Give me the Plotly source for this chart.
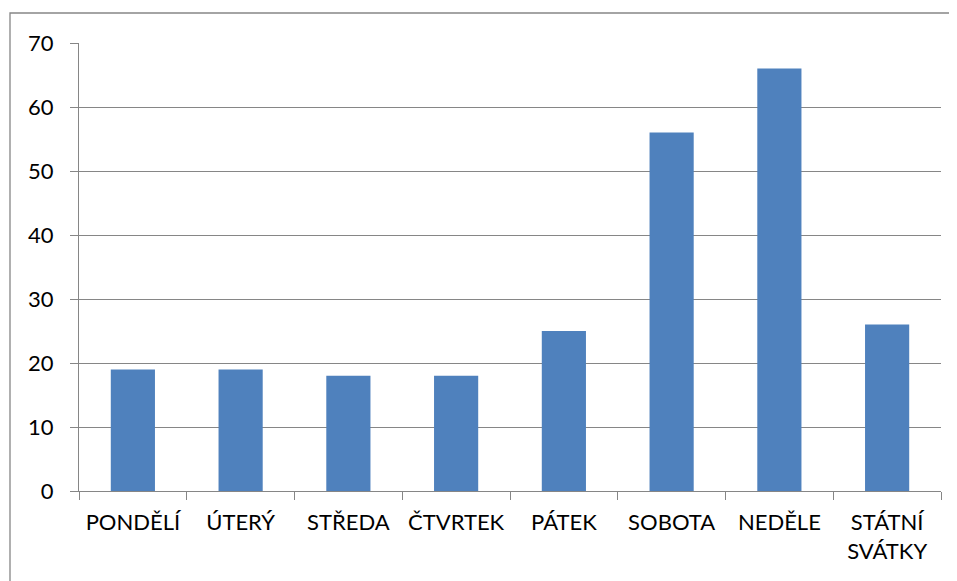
import plotly.graph_objects as go

categories = ["PONDĚLÍ", "ÚTERÝ", "STŘEDA", "ČTVRTEK", "PÁTEK", "SOBOTA", "NEDĚLE", "STÁTNÍ<br>SVÁTKY"]
values = [19, 19, 18, 18, 25, 56, 66, 26]
y_ticks = [0, 10, 20, 30, 40, 50, 60, 70]

grid = "#868686"
fig = go.Figure(go.Bar(x=categories, y=values, marker=dict(color="#4F81BD", line=dict(width=0)),
                       hoverinfo="x+y"))

# page body has an 8px offset
OFF = 8
W, H = 957, 581
L, R, T, B = 79 - OFF, W - 941 + OFF, 43 - OFF, H - 491 + OFF
pw, ph = W - L - R, H - T - B

def px_to_paper_x(px):
    return (px - OFF - L) / pw

def py_to_paper_y(py):
    return (H - B - (py - OFF)) / ph

fig.update_layout(
    width=W, height=H,
    margin=dict(l=L, r=R, t=T, b=B),
    plot_bgcolor="white", paper_bgcolor="white",
    bargap=0.59,
    showlegend=False,
    font=dict(family="Lato, Carlito, Open Sans, sans-serif", size=22, color="black"),
    xaxis=dict(showline=True, linecolor=grid, linewidth=1, ticks="outside", ticklen=8,
               tickcolor=grid, tickson="boundaries", showgrid=False, tickfont=dict(size=22),
               ticklabelstandoff=12),
    yaxis=dict(range=[0, 70], tickvals=y_ticks, showline=True, linecolor=grid, linewidth=1,
               ticks="outside", ticklen=8, tickcolor=grid, showgrid=True, gridcolor=grid,
               gridwidth=1, zeroline=False, tickfont=dict(size=22), ticklabelstandoff=12),
    shapes=[dict(type="rect", xref="paper", yref="paper",
                 x0=px_to_paper_x(10), x1=px_to_paper_x(953),
                 y0=py_to_paper_y(640), y1=py_to_paper_y(13),
                 line=dict(color=grid, width=1.3), fillcolor="rgba(0,0,0,0)", layer="below")],
)

fig.write_html("out.html")
